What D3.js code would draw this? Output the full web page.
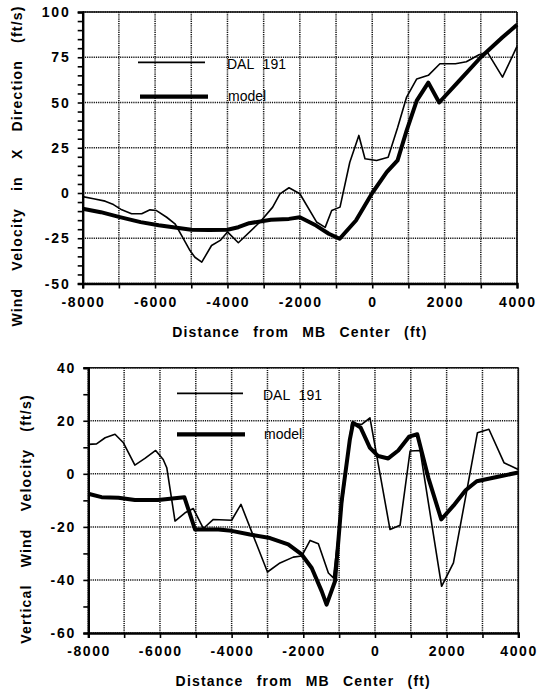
<!DOCTYPE html>
<html>
<head>
<meta charset="utf-8">
<script src="https://cdn.jsdelivr.net/npm/d3@7"></script>
<style>
  body { margin: 0; background: #fff; }
  svg { display: block; }
</style>
</head>
<body>
<svg id="chart" width="537" height="690"></svg>
<script>
// Distance along the flight path (ft)
const xTickValues = [-8000, -6000, -4000, -2000, 0, 2000, 4000];
const xGridStep = 1000;

// Horizontal wind component (ft/s)
const uTickValues = [-50, -25, 0, 25, 50, 75, 100];
const uDalX = [-8000, -7700, -7380, -7150, -6920, -6650, -6370, -6140, -5960, -5680, -5450, -5265, -5035, -4900, -4710, -4440, -4200, -4000, -3700, -3100, -2750, -2550, -2300, -2000, -1540, -1300, -1120, -890, -620, -370, -200, 120, 440, 700, 950, 1230, 1550, 1870, 2300, 2600, 2950, 3180, 3600, 4000];
const uDalY = [-2, -3.2, -4.5, -6.4, -9.3, -11.5, -11.5, -9.3, -9.7, -13.4, -17, -23.5, -31.8, -35.5, -38.2, -29, -26.2, -21.5, -27.5, -16, -7.8, -0.5, 2.9, -0.4, -16, -19, -9.7, -7.8, 17, 31.8, 18.9, 18, 19.8, 36, 53, 63, 65, 71.4, 71.4, 72.5, 76.4, 77.8, 64, 81];
const uModelX = [-8000, -7500, -7000, -6400, -5900, -5500, -5000, -4500, -4000, -3700, -3400, -2800, -2300, -2000, -1550, -1200, -900, -450, 0, 400, 700, 950, 1230, 1550, 1850, 2400, 3000, 3600, 4000];
const uModelY = [-8.7, -10.6, -13.2, -16.1, -17.8, -18.9, -20.3, -20.5, -20.3, -18.9, -16.7, -14.8, -14.3, -13.4, -18, -22.5, -25.3, -15.2, 0, 11.5, 18, 34.5, 51, 61, 50, 62, 75, 86, 93];

// Vertical wind component (ft/s)
const wTickValues = [-60, -40, -20, 0, 20, 40];
const wDalX = [-8000, -7770, -7530, -7255, -7020, -6700, -6420, -6120, -5910, -5810, -5580, -5300, -5070, -4790, -4510, -4000, -3740, -3000, -2650, -2280, -2045, -1810, -1580, -1300, -1160, -650, -370, -140, 420, 700, 980, 1260, 1860, 2190, 2560, 2860, 3180, 3600, 4000];
const wDalY = [11.1, 11.3, 13.6, 14.9, 11.7, 3.3, 5.8, 8.8, 5.4, 2.3, -17.8, -14.7, -13.1, -20.6, -17.2, -17.5, -11.5, -37, -33.6, -31.4, -31, -25.1, -26.4, -37.4, -39.2, 19.2, 18.6, 21.1, -21, -19.4, 8.6, 8.8, -42.4, -33.6, -6.5, 15.5, 16.8, 4.2, 1.6];
const wModelX = [-8000, -7630, -7160, -6700, -6050, -5320, -5020, -4370, -4000, -3490, -2930, -2420, -2045, -1765, -1485, -1350, -1115, -930, -700, -610, -400, -140, 90, 370, 650, 950, 1180, 1490, 1850, 2190, 2530, 2840, 3400, 4000];
const wModelY = [-7.5, -8.8, -9, -9.9, -9.9, -8.8, -21, -21, -21.5, -22.9, -24.2, -26.6, -30.4, -35.5, -44.3, -49.3, -40.5, -10.3, 13, 19.2, 17.4, 9.8, 6.7, 5.8, 8.8, 14, 14.9, -1.5, -17.2, -12, -6.2, -2.8, -1.2, 0.5];

const seriesNames = ["DAL 191", "model"];
const xTitle = "Distance from MB Center (ft)";

const svg = d3.select("#chart");
const boldFont = '"Liberation Sans", Arial, Helvetica, sans-serif';

function drawPanel(p) {
  const x = d3.scaleLinear().domain([-8000, 4000]).range([p.left, p.right]);
  const y = d3.scaleLinear().domain(p.yDomain).range([p.bottom, p.top]);
  const g = svg.append("g");

  // dotted grid
  const gridX = d3.range(-8000, 4001, xGridStep);
  const gridY = d3.range(p.yDomain[0], p.yDomain[1] + 0.001, p.yMajor);
  g.append("g").selectAll("line").data(gridX).join("line")
    .attr("x1", d => x(d)).attr("x2", d => x(d))
    .attr("y1", p.top).attr("y2", p.bottom)
    .attr("stroke", "#111").attr("stroke-width", 1.5).attr("stroke-dasharray", "1.2,1");
  g.append("g").selectAll("line").data(gridY).join("line")
    .attr("x1", p.left).attr("x2", p.right)
    .attr("y1", d => y(d)).attr("y2", d => y(d))
    .attr("stroke", "#111").attr("stroke-width", 1.5).attr("stroke-dasharray", "1.2,1");

  // frame
  g.append("line").attr("x1", p.left).attr("x2", p.right).attr("y1", p.top).attr("y2", p.top)
    .attr("stroke", "#111").attr("stroke-width", 1.6);
  g.append("line").attr("x1", p.right).attr("x2", p.right).attr("y1", p.top).attr("y2", p.bottom)
    .attr("stroke", "#111").attr("stroke-width", 1.6);

  // left axis with minor ticks
  const yAxis = d3.axisLeft(y)
    .tickValues(d3.range(p.yDomain[0], p.yDomain[1] + 0.001, p.yMinor))
    .tickSize(5).tickFormat("");
  const ya = g.append("g").attr("transform", `translate(${p.left},0)`).call(yAxis);
  ya.select(".domain").attr("stroke", "#000").attr("stroke-width", 2.4);
  ya.selectAll(".tick line").attr("stroke", "#000").attr("stroke-width", 1.6);

  g.append("g").selectAll("text").data(p.yTicks).join("text")
    .attr("x", p.left - 14 + 1.8).attr("y", d => y(d)).attr("dy", "0.36em")
    .attr("text-anchor", "end")
    .attr("font-family", boldFont).attr("font-weight", "bold").attr("font-size", 14)
    .attr("letter-spacing", 1.8)
    .text(d => d);

  // bottom axis
  const xAxis = d3.axisBottom(x).tickValues(gridX).tickSize(5).tickFormat("");
  const xa = g.append("g").attr("transform", `translate(0,${p.bottom})`).call(xAxis);
  xa.select(".domain").attr("stroke", "#000").attr("stroke-width", 2.4);
  xa.selectAll(".tick line").attr("stroke", "#000").attr("stroke-width", 1.6);

  g.append("g").selectAll("text").data(xTickValues).join("text")
    .attr("x", d => x(d) + 0.8).attr("y", p.bottom + 23)
    .attr("text-anchor", "middle")
    .attr("font-family", boldFont).attr("font-weight", "bold").attr("font-size", 14)
    .attr("letter-spacing", 1.6)
    .text(d => d);

  // axis titles
  g.append("text")
    .attr("x", (p.left + p.right) / 2 + 0).attr("y", p.bottom + 53)
    .attr("text-anchor", "middle")
    .attr("font-family", boldFont).attr("font-weight", "bold").attr("font-size", 14)
    .attr("letter-spacing", 1.2).attr("word-spacing", 8)
    .text(xTitle);
  g.append("text")
    .attr("transform", `translate(${p.titleX},${p.titleY}) rotate(-90)`)
    .attr("text-anchor", "middle")
    .attr("font-family", boldFont).attr("font-weight", "bold").attr("font-size", 14)
    .attr("letter-spacing", 1.2).attr("word-spacing", 12)
    .text(p.yTitle);

  // series
  const line = d3.line().x(d => x(d[0])).y(d => y(d[1]));
  const dal = d3.zip(p.dalX, p.dalY);
  const model = d3.zip(p.modelX, p.modelY);
  g.append("path").datum(model).attr("d", line)
    .attr("fill", "none").attr("stroke", "#000").attr("stroke-width", 4)
    .attr("stroke-linejoin", "round");
  g.append("path").datum(dal).attr("d", line)
    .attr("fill", "none").attr("stroke", "#000").attr("stroke-width", 1.6)
    .attr("stroke-linejoin", "round");

  // legend
  const lg = g.append("g");
  lg.append("line").attr("x1", p.leg[0]).attr("x2", p.leg[1]).attr("y1", p.leg[2]).attr("y2", p.leg[2])
    .attr("stroke", "#000").attr("stroke-width", 1.8);
  lg.append("line").attr("x1", p.leg[3]).attr("x2", p.leg[4]).attr("y1", p.leg[5]).attr("y2", p.leg[5])
    .attr("stroke", "#000").attr("stroke-width", 4.2);
  lg.append("text").attr("x", p.leg[6]).attr("y", p.leg[2] + 6.5)
    .attr("font-family", boldFont).attr("font-size", 14).attr("word-spacing", 5)
    .text(seriesNames[0]);
  lg.append("text").attr("x", p.leg[6] + 1).attr("y", p.leg[5] + 4.5)
    .attr("font-family", boldFont).attr("font-size", 14)
    .text(seriesNames[1]);
}

drawPanel({
  left: 82.7, right: 517, top: 12, bottom: 283.5,
  yDomain: [-50, 100], yMajor: 25, yMinor: 5, yTicks: uTickValues,
  yTitle: "Wind Velocity in X Direction (ft/s)", titleX: 22, titleY: 166,
  dalX: uDalX, dalY: uDalY, modelX: uModelX, modelY: uModelY,
  leg: [138, 205, 62.3, 140, 208, 96.7, 227]
});

drawPanel({
  left: 88.3, right: 518.3, top: 367.7, bottom: 633,
  yDomain: [-60, 40], yMajor: 20, yMinor: 10, yTicks: wTickValues,
  yTitle: "Vertical Wind Velocity (ft/s)", titleX: 31, titleY: 519,
  dalX: wDalX, dalY: wDalY, modelX: wModelX, modelY: wModelY,
  leg: [177, 243, 393.3, 177, 245, 434.3, 263]
});
</script>
</body>
</html>
